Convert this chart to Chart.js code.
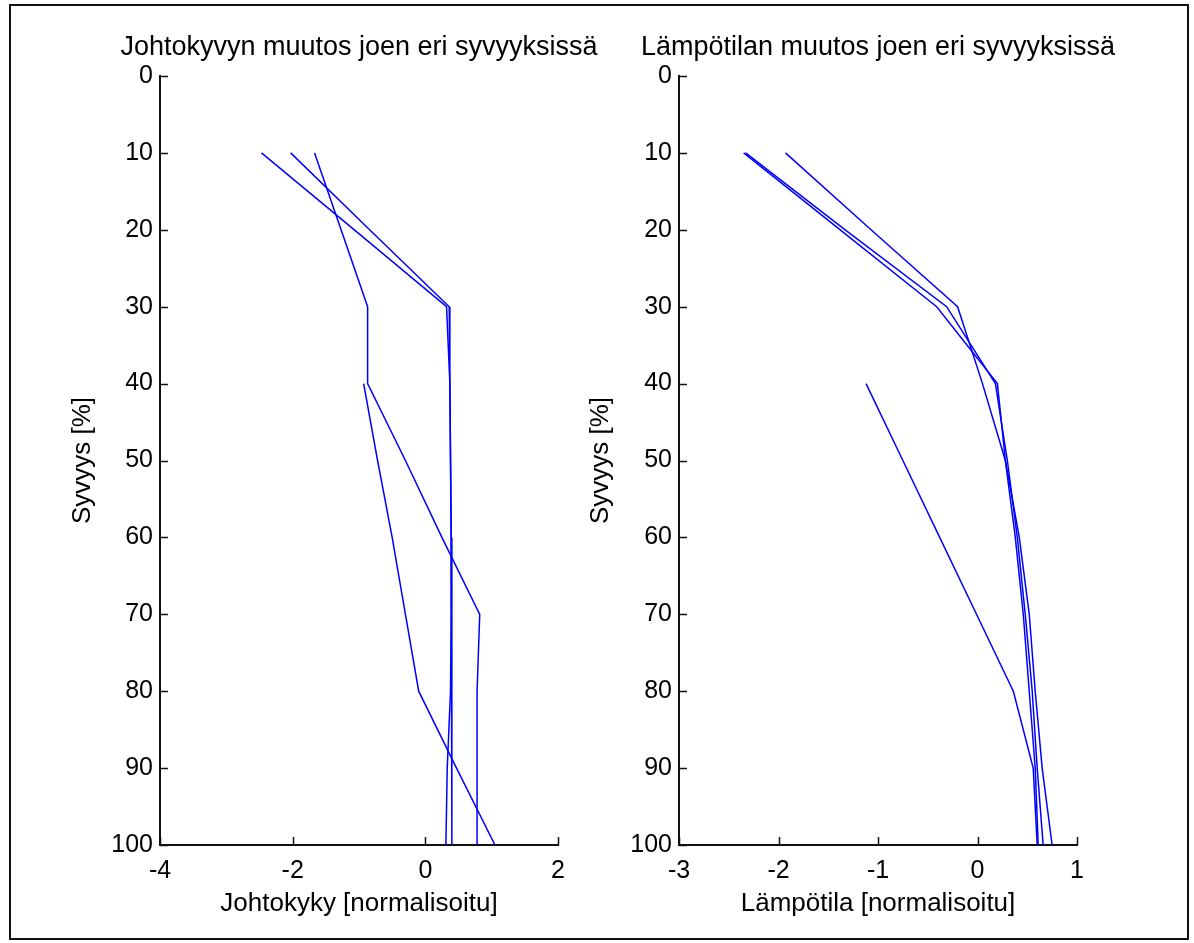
<!DOCTYPE html>
<html>
<head>
<meta charset="utf-8">
<script src="https://cdn.jsdelivr.net/npm/chart.js@4/dist/chart.umd.min.js"></script>
<style>
  html, body { margin: 0; padding: 0; background: #fff; }
  #wrap { position: relative; width: 1194px; height: 943px; overflow: hidden; background: #fff; }
  canvas { position: absolute; top: 0; }
  #frame { position: absolute; left: 9px; top: 4px; width: 1180px; height: 936px; border: 2px solid #111; box-sizing: border-box; pointer-events: none; }
</style>
</head>
<body>
<div id="wrap">
  <canvas id="left" width="718" height="943" style="left:0px"></canvas>
  <canvas id="right" width="636" height="943" style="left:560px"></canvas>
  <div id="frame"></div>
</div>
<script>
// ---- Data (depth in %, values normalised) ----
const depths = [10, 20, 30, 40, 50, 60, 70, 80, 90, 100];

// Conductivity (Johtokyky) profiles
const johto1 = [-2.47, -1.07, 0.32, 0.37, 0.38, 0.39, 0.39, 0.38, 0.33, 0.31];
const johto2 = [-2.03, -0.84, 0.36, 0.37, 0.38, 0.39, 0.40, 0.40, 0.40, 0.40];
const johto3 = [-1.67, -1.27, -0.87, -0.87, -0.30, 0.25, 0.82, 0.78, 0.78, 0.78];
const johto4 = [null, null, null, -0.93, -0.72, -0.50, -0.30, -0.10, 0.47, 1.05];

// Temperature (Lämpötila) profiles
const lampo1 = [-2.35, -1.38, -0.41, 0.20, 0.28, 0.38, 0.46, 0.52, 0.58, 0.61];
const lampo2 = [-2.33, -1.33, -0.31, 0.18, 0.30, 0.40, 0.48, 0.55, 0.60, 0.66];
const lampo3 = [-1.93, -1.07, -0.20, 0.05, 0.28, 0.42, 0.52, 0.58, 0.65, 0.75];
const lampo4 = [null, null, null, -1.12, -0.75, -0.38, -0.01, 0.36, 0.56, 0.60];

// Tick labels
const depthTicks = [0, 10, 20, 30, 40, 50, 60, 70, 80, 90, 100];
const johtoTicks = [-4, -2, 0, 2];
const lampoTicks = [-3, -2, -1, 0, 1];

// Texts
const titleLeft = 'Johtokyvyn muutos joen eri syvyyksissä';
const titleRight = 'Lämpötilan muutos joen eri syvyyksissä';
const xLabelLeft = 'Johtokyky [normalisoitu]';
const xLabelRight = 'Lämpötila [normalisoitu]';
const yLabel = 'Syvyys [%]';

// ---- helpers ----
const FONT = '"Liberation Sans", Arial, Helvetica, sans-serif';
const BLUE = '#0000ff';

function toPoints(values) {
  const pts = [];
  values.forEach((v, i) => { if (v !== null) pts.push({ x: v, y: depths[i] }); });
  return pts;
}

const inwardTicks = {
  id: 'inwardTicks',
  afterDraw(chart) {
    const { ctx, chartArea, scales } = chart;
    ctx.save();
    ctx.strokeStyle = '#111';
    ctx.lineWidth = 1.5;
    const L = 8;
    scales.x.ticks.forEach(t => {
      const px = Math.round(scales.x.getPixelForValue(t.value)) + 0.5;
      ctx.beginPath();
      ctx.moveTo(px, chartArea.bottom);
      ctx.lineTo(px, chartArea.bottom - L);
      ctx.stroke();
    });
    scales.y.ticks.forEach(t => {
      const py = Math.round(scales.y.getPixelForValue(t.value)) + 0.5;
      ctx.beginPath();
      ctx.moveTo(chartArea.left, py);
      ctx.lineTo(chartArea.left + L, py);
      ctx.stroke();
    });
    ctx.restore();
  }
};

function makeChart(canvasId, cfg) {
  const datasets = cfg.series.map(s => ({
    data: toPoints(s),
    borderColor: BLUE,
    backgroundColor: BLUE,
    borderWidth: 1.5,
    pointRadius: 0,
    tension: 0,
    fill: false
  }));
  return new Chart(document.getElementById(canvasId), {
    type: 'line',
    data: { datasets },
    plugins: [inwardTicks],
    options: {
      responsive: false,
      animation: false,
      devicePixelRatio: 1,
      layout: { padding: 0 },
      plugins: {
        legend: { display: false },
        tooltip: { enabled: false },
        title: {
          display: true,
          fullSize: true,
          text: cfg.title,
          color: '#000',
          font: { family: FONT, size: 27, weight: 'normal' },
          padding: { top: 31, bottom: 12.6 }
        }
      },
      scales: {
        x: {
          type: 'linear',
          position: 'bottom',
          min: cfg.xTicks[0],
          max: cfg.xTicks[cfg.xTicks.length - 1],
          afterBuildTicks: s => { s.ticks = cfg.xTicks.map(v => ({ value: v })); },
          afterFit: s => { s.height = 98; },
          grid: { display: false, drawTicks: false },
          border: { display: true, color: '#111', width: 2 },
          ticks: { color: '#000', padding: 11, maxRotation: 0, font: { family: FONT, size: 25 } },
          title: {
            display: true,
            text: cfg.xLabel,
            color: '#000',
            font: { family: FONT, size: 26 },
            padding: { top: 0, bottom: 23.4 }
          }
        },
        y: {
          type: 'linear',
          position: 'left',
          reverse: true,
          min: 0,
          max: 100,
          afterBuildTicks: s => { s.ticks = depthTicks.map(v => ({ value: v })); },
          afterFit: s => { s.width = cfg.yWidth; },
          grid: { display: false, drawTicks: false },
          border: { display: true, color: '#111', width: 2 },
          ticks: { color: '#000', padding: 7, font: { family: FONT, size: 25 } },
          title: {
            display: true,
            text: yLabel,
            color: '#000',
            font: { family: FONT, size: 26 },
            padding: { top: cfg.yTitlePad, bottom: 0 }
          }
        },
        // empty spacer on the right so the plot area is centred under the title
        yPad: {
          type: 'linear',
          position: 'right',
          min: 0,
          max: 100,
          afterFit: s => { s.width = cfg.yWidth; },
          grid: { display: false, drawTicks: false },
          border: { display: false },
          ticks: { display: false }
        }
      }
    }
  });
}

makeChart('left', {
  series: [johto1, johto2, johto3, johto4],
  title: titleLeft,
  xLabel: xLabelLeft,
  xTicks: johtoTicks,
  yWidth: 160,
  yTitlePad: 67
});

makeChart('right', {
  series: [lampo1, lampo2, lampo3, lampo4],
  title: titleRight,
  xLabel: xLabelRight,
  xTicks: lampoTicks,
  yWidth: 119,
  yTitlePad: 25.4
});
</script>
</body>
</html>
